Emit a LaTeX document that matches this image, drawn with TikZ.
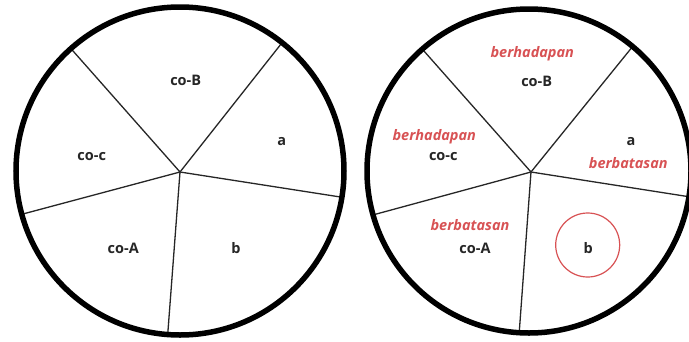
\documentclass[tikz,border=0pt]{standalone}
\usepackage{fontspec}
\setmainfont{Open Sans}
\setsansfont{Open Sans}
\definecolor{redlbl}{RGB}{216,82,84}
\begin{document}
\begin{tikzpicture}[x=1pt,y=-1pt,
  rim/.style={line width=5.5pt,draw=black},
  spoke/.style={line width=1.3pt,draw=black!85},
  lbl/.style={font=\fontsize{14.5}{16}\selectfont\bfseries,text=black!85,inner sep=0pt},
  rlbl/.style={font=\fontsize{14.5}{16}\selectfont\bfseries\itshape,text=redlbl,inner sep=0pt}]
\useasboundingbox (0,0) rectangle (689,341);
\fill[white] (0,0) rectangle (689,341);
% ---------- left circle ----------
\coordinate (CL) at (180,171);
\coordinate (HL) at (180,172);
\foreach \a/\n in {-131.7/tl,-51.5/tr,9.2/r,94.3/b,164.7/l}
  \coordinate (L\n) at ([shift={(\a:166)}]CL);
\begin{scope}
\clip (CL) circle (164);
\foreach \n in {tl,tr,r,b,l} \draw[spoke] (HL) -- (L\n);
\end{scope}
\draw[rim] (CL) circle (164);
\node[lbl] (lcoB) at (185.7,80) {co-B};
\node[lbl] (la) at (281.7,141.7) {a};
\node[lbl] (lcoc) at (91.7,156.7) {co-c};
\node[lbl] (lcoA) at (123.3,248.3) {co-A};
\node[lbl] (lb) at (236,248.3) {b};
% ---------- right circle ----------
\coordinate (CR) at (529,171);
\coordinate (HR) at (531,172);
\foreach \a/\n in {-131.5/tl,-51/tr,8.9/r,94.2/b,164.8/l}
  \coordinate (R\n) at ([shift={(\a:170)}]HR);
\begin{scope}
\clip (CR) circle (162);
\foreach \n in {tl,tr,r,b,l} \draw[spoke] (HR) -- (R\n);
\end{scope}
\draw[rim] (CR) circle (162);
\node[rlbl] (rh1) at (532.3,53.3) {berhadapan};
\node[lbl] (rcoB) at (536.7,81.7) {co-B};
\node[rlbl] (rh2) at (434.3,136.7) {berhadapan};
\node[lbl] (rcoc) at (443.3,156.7) {co-c};
\node[lbl] (ra) at (631,141.7) {a};
\node[rlbl] (rb1) at (628.3,163.3) {berbatasan};
\node[rlbl] (rb2) at (470,225) {berbatasan};
\node[lbl] (rcoA) at (475,248.3) {co-A};
\node[lbl] (rb) at (588.3,248.3) {b};
\node[draw=redlbl,line width=1.2pt,circle,minimum size=64pt,inner sep=0pt] (ring) at (587.7,245) {};
\end{tikzpicture}
\end{document}
